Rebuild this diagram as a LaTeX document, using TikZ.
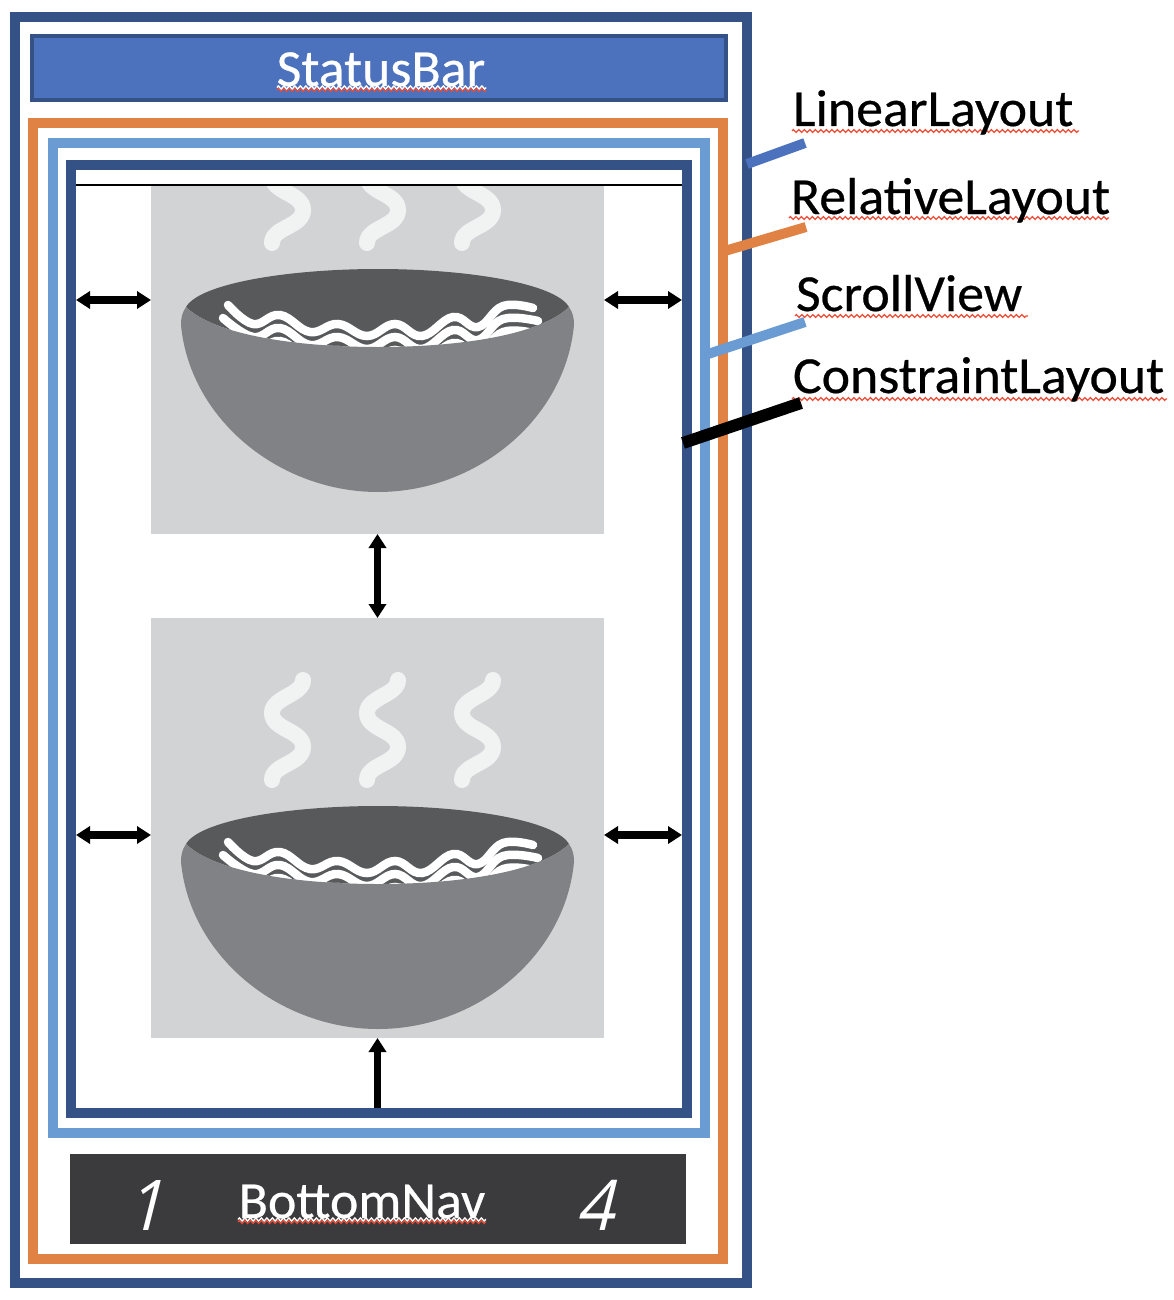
\documentclass[tikz,border=0pt]{standalone}
\usepackage{fontspec}
\setmainfont{Carlito}
\newfontfamily\lblfont[FakeStretch=1.035,FakeBold=0.5]{Carlito}
\newfontfamily\numfont[FakeStretch=0.95,FakeSlant=0.25]{Open Sans}
\usetikzlibrary{arrows.meta,decorations.pathmorphing}
\definecolor{frameblue}{HTML}{355287}
\definecolor{frameorange}{HTML}{E08244}
\definecolor{framelight}{HTML}{6A9BD2}
\definecolor{barblue}{HTML}{4C72BE}
\definecolor{navdark}{HTML}{3B3B3D}
\definecolor{imgbg}{HTML}{D1D3D4}
\definecolor{steamc}{HTML}{F1F2F2}
\definecolor{bowlc}{HTML}{808285}
\definecolor{bowlin}{HTML}{58595B}
\definecolor{squigred}{HTML}{EE4B35}
\tikzset{
  x=1pt,y=-1pt,
  frame/.style={draw,fill=none,outer sep=0pt,inner sep=0pt,line width=10pt},
  imgbox/.style={fill=imgbg,outer sep=0pt,inner sep=0pt,minimum width=453pt},
  lbl/.style={anchor=base west,inner sep=0pt,outer sep=0pt,font=\lblfont\fontsize{52}{60}\selectfont,text=black},
  barlbl/.style={anchor=base,inner sep=0pt,outer sep=0pt,font=\lblfont\fontsize{52}{60}\selectfont,text=white},
  navnum/.style={anchor=base,inner sep=0pt,outer sep=0pt,font=\numfont\fontsize{70}{80}\selectfont,text=white},
  dim/.style={line width=7.5pt,{Triangle[length=14pt,width=17pt]}-{Triangle[length=14pt,width=17pt]}},
  dimup/.style={line width=7.5pt,-{Triangle[length=14pt,width=17pt]}},
  leader/.style={line width=10pt},
  squig/.style={decorate,decoration={zigzag,amplitude=1.5pt,segment length=5.5pt},line width=1.2pt,draw=squigred},
  squigw/.style={decorate,decoration={zigzag,amplitude=1.5pt,segment length=5.5pt},line width=1.4pt,draw=white},
  steam/.style={draw=steamc,line width=16pt,line cap=round},
  noodle/.style={draw=white,line width=8.5pt,line cap=round}
}
\newcommand{\steamcurve}[1]{%
  \draw[steam,xshift=#1pt] (303,143) .. controls (303,158) and (272,160) .. (272,176)
    .. controls (272,193) and (303,193) .. (303,210)
    .. controls (303,227) and (272,227) .. (272,243);}
\newcommand{\bowlart}[2]{%
\begin{scope}
  \clip (#2.south west) rectangle (#2.north east);
  \begin{scope}[shift={(0,#1)}]
    \steamcurve{0}\steamcurve{95}\steamcurve{190}
    \fill[bowlin] (186,307) .. controls (200,283) and (290,269) .. (378,269)
       .. controls (466,269) and (555,283) .. (569,307)
       .. controls (540,335) and (460,347) .. (378,347)
       .. controls (296,347) and (215,335) .. (186,307) -- cycle;
    \draw[noodle] plot[smooth,tension=.7] coordinates {(228,305) (253,324) (280,315) (310,332) (338,324) (367,336) (395,324) (422,336) (453,317) (478,327) (503,306) (533,308)};
    \draw[noodle] plot[smooth,tension=.7] coordinates {(223,318) (253,337) (280,328) (310,345) (338,337) (367,349) (395,337) (422,349) (453,330) (478,340) (503,319) (538,321)};
    \draw[noodle] plot[smooth,tension=.7] coordinates {(218,331) (253,350) (280,341) (310,358) (338,350) (367,362) (395,350) (422,362) (453,343) (478,353) (503,332) (533,333)};
    \fill[bowlc] (186,307) .. controls (182,313) and (181,318) .. (181,325)
       .. controls (190,420) and (280,492) .. (378,492)
       .. controls (476,492) and (565,420) .. (574,325)
       .. controls (574,318) and (573,313) .. (569,307)
       .. controls (540,335) and (460,347) .. (378,347)
       .. controls (296,347) and (215,335) .. (186,307) -- cycle;
  \end{scope}
\end{scope}}
\begin{document}
\begin{tikzpicture}
\useasboundingbox (0,0) rectangle (1174,1300);
% frames
\node[frame,draw=frameblue,minimum width=732pt,minimum height=1266pt] (lin) at (381,650) {};
\node[frame,draw=frameorange,minimum width=690pt,minimum height=1136pt] (rel) at (378,691) {};
\node[frame,draw=framelight,minimum width=652pt,minimum height=990pt] (scr) at (379,638) {};
\node[frame,draw=frameblue,minimum width=616pt,minimum height=948pt] (con) at (379,639) {};
\node[draw=frameblue,fill=barblue,line width=4pt,outer sep=0pt,inner sep=0pt,minimum width=694pt,minimum height=64pt] (status) at (379,68) {};
\node[fill=navdark,outer sep=0pt,inner sep=0pt,minimum width=616pt,minimum height=90pt] (nav) at (378,1199) {};
% images
\node[imgbox,minimum height=348pt] (imgA) at (377.5,360) {};
\node[imgbox,minimum height=420pt] (imgB) at (377.5,828) {};
\bowlart{0}{imgA}
\bowlart{537}{imgB}
% top rule
\coordinate (ruleY) at (379,185);
\draw[line width=1.5pt,shorten <=5pt,shorten >=5pt] (con.west |- ruleY) -- (con.east |- ruleY);
% dimension arrows
\coordinate (rowA) at (377.5,300);
\coordinate (rowB) at (377.5,835);
\draw[dim,shorten <=5pt] (con.west |- rowA) -- (imgA.west |- rowA);
\draw[dim,shorten >=5pt] (imgA.east |- rowA) -- (con.east |- rowA);
\draw[dim,shorten <=5pt] (con.west |- rowB) -- (imgB.west |- rowB);
\draw[dim,shorten >=5pt] (imgB.east |- rowB) -- (con.east |- rowB);
\draw[dim] (imgA.south) -- (imgB.north);
\draw[dimup,shorten <=5pt] (imgB.south |- con.south) -- (imgB.south);
% squiggles
\draw[squig] (792,131) -- (1079,131);
\draw[squig] (789,218) -- (1109,218);
\draw[squig] (795,316) -- (1028,316);
\draw[squig] (792,399) -- (1167,399);
\draw[squigw] (277,87.5) -- (486,87.5);
\draw[squig] (277,90) -- (486,90);
\draw[squigw] (238,1219.5) -- (486,1219.5);
\draw[squig] (238,1222) -- (486,1222);
% labels
\node[lbl] (tLin) at (793,126) {LinearLayout};
\node[lbl] (tRel) at (791,214) {RelativeLayout};
\node[lbl] (tScr) at (796,311) {ScrollView};
\node[lbl] (tCon) at (793,393) {ConstraintLayout};
\node[barlbl] (tStatus) at (381,86) {StatusBar};
\node[barlbl] (tNav) at (362,1218) {BottomNav};
\node[navnum] (tOne) at (145,1230) {1};
\node[navnum] (tFour) at (595,1230) {4};
% leaders
\coordinate (fromLin) at (747,164);
\coordinate (fromRel) at (723,251.5);
\coordinate (fromScr) at (705,355);
\coordinate (fromCon) at (683,443);
\coordinate (toLin) at (805,143);
\coordinate (toRel) at (806,227);
\coordinate (toScr) at (805,322);
\coordinate (toCon) at (801,403);
\draw[leader,draw=barblue] (lin.east |- fromLin) -- (toLin);
\draw[leader,draw=frameorange] (rel.east |- fromRel) -- (toRel);
\draw[leader,draw=framelight] (scr.east |- fromScr) -- (toScr);
\draw[leader,line width=12pt,draw=black] (fromCon) -- (toCon);
\end{tikzpicture}
\end{document}
